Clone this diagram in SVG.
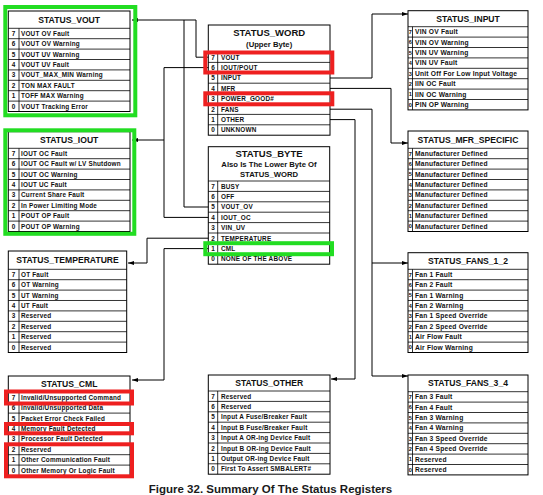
<svg xmlns="http://www.w3.org/2000/svg" width="543" height="495" viewBox="0 0 543 495">
<style>
.box{fill:#fff;stroke:#000;stroke-width:1}
.grid{fill:none;stroke:#000;stroke-width:0.8}
.t{font-family:"Liberation Sans",Arial,sans-serif;font-weight:bold;fill:#111}
.ti{font-size:8.6px;text-anchor:middle}
.tb{font-size:9.5px;text-anchor:middle}
.sub{font-size:7.7px;text-anchor:middle}
.r{font-size:6.4px;letter-spacing:.2px}
.rr{font-size:6.7px;letter-spacing:.2px}
.d{font-size:6.4px;text-anchor:middle}
.dr{font-size:5.6px;text-anchor:middle}
.conn path{fill:none;stroke:#000;stroke-width:1}
.hg{fill:none;stroke:#22dd22;stroke-width:4}
.hr{fill:none;stroke:#ee2020;stroke-width:4}
.cap{font-family:"Liberation Sans",Arial,sans-serif;font-weight:bold;font-size:11.5px;fill:#1a1a1a;text-anchor:middle}
</style>
<defs>
<marker id="ah" markerUnits="userSpaceOnUse" markerWidth="6" markerHeight="4" refX="6" refY="2" orient="auto">
<path d="M0 0L6 2L0 4z" fill="#000"/>
</marker>
</defs>

<g id="status_vout" transform="translate(8.3,11)">
<rect class="box" width="121.7" height="100.5"/>
<text class="t ti" x="60.85" y="11.75">STATUS_VOUT</text>
<g transform="translate(0,17.3)">
<path class="grid" d="M0 0H121.7M0 10.4H121.7M0 20.8H121.7M0 31.2H121.7M0 41.6H121.7M0 52H121.7M0 62.4H121.7M0 72.8H121.7M10.7 0V83.2"/>
<text class="t d" x="5.35" y="7.5">7</text><text class="t r" x="12.7" y="7.5">VOUT OV Fault</text>
<text class="t d" x="5.35" y="17.9">6</text><text class="t r" x="12.7" y="17.9">VOUT OV Warning</text>
<text class="t d" x="5.35" y="28.3">5</text><text class="t r" x="12.7" y="28.3">VOUT UV Warning</text>
<text class="t d" x="5.35" y="38.7">4</text><text class="t r" x="12.7" y="38.7">VOUT UV Fault</text>
<text class="t d" x="5.35" y="49.1">3</text><text class="t r" x="12.7" y="49.1">VOUT_MAX_MIN Warning</text>
<text class="t d" x="5.35" y="59.5">2</text><text class="t r" x="12.7" y="59.5">TON MAX FAULT</text>
<text class="t d" x="5.35" y="69.9">1</text><text class="t r" x="12.7" y="69.9">TOFF MAX Warning</text>
<text class="t d" x="5.35" y="80.3">0</text><text class="t r" x="12.7" y="80.3">VOUT Tracking Error</text>
</g>
</g>

<g id="status_iout" transform="translate(8.3,131.7)">
<rect class="box" width="121.7" height="99.8"/>
<text class="t ti" x="60.85" y="11.4">STATUS_IOUT</text>
<g transform="translate(0,16.6)">
<path class="grid" d="M0 0H121.7M0 10.4H121.7M0 20.8H121.7M0 31.2H121.7M0 41.6H121.7M0 52H121.7M0 62.4H121.7M0 72.8H121.7M10.7 0V83.2"/>
<text class="t d" x="5.35" y="7.5">7</text><text class="t r" x="12.7" y="7.5">IOUT OC Fault</text>
<text class="t d" x="5.35" y="17.9">6</text><text class="t r" x="12.7" y="17.9">IOUT OC Fault w/ LV Shutdown</text>
<text class="t d" x="5.35" y="28.3">5</text><text class="t r" x="12.7" y="28.3">IOUT OC Warning</text>
<text class="t d" x="5.35" y="38.7">4</text><text class="t r" x="12.7" y="38.7">IOUT UC Fault</text>
<text class="t d" x="5.35" y="49.1">3</text><text class="t r" x="12.7" y="49.1">Current Share Fault</text>
<text class="t d" x="5.35" y="59.5">2</text><text class="t r" x="12.7" y="59.5">In Power Limiting Mode</text>
<text class="t d" x="5.35" y="69.9">1</text><text class="t r" x="12.7" y="69.9">POUT OP Fault</text>
<text class="t d" x="5.35" y="80.3">0</text><text class="t r" x="12.7" y="80.3">POUT OP Warning</text>
</g>
</g>

<g id="status_temperature" transform="translate(8.3,251)">
<rect class="box" width="118.4" height="101.5"/>
<text class="t ti" x="59.2" y="12.25">STATUS_TEMPERATURE</text>
<g transform="translate(0,18.3)">
<path class="grid" d="M0 0H118.4M0 10.4H118.4M0 20.8H118.4M0 31.2H118.4M0 41.6H118.4M0 52H118.4M0 62.4H118.4M0 72.8H118.4M10.7 0V83.2"/>
<text class="t d" x="5.35" y="7.5">7</text><text class="t r" x="12.7" y="7.5">OT Fault</text>
<text class="t d" x="5.35" y="17.9">6</text><text class="t r" x="12.7" y="17.9">OT Warning</text>
<text class="t d" x="5.35" y="28.3">5</text><text class="t r" x="12.7" y="28.3">UT Warning</text>
<text class="t d" x="5.35" y="38.7">4</text><text class="t r" x="12.7" y="38.7">UT Fault</text>
<text class="t d" x="5.35" y="49.1">3</text><text class="t r" x="12.7" y="49.1">Reserved</text>
<text class="t d" x="5.35" y="59.5">2</text><text class="t r" x="12.7" y="59.5">Reserved</text>
<text class="t d" x="5.35" y="69.9">1</text><text class="t r" x="12.7" y="69.9">Reserved</text>
<text class="t d" x="5.35" y="80.3">0</text><text class="t r" x="12.7" y="80.3">Reserved</text>
</g>
</g>

<g id="status_cml" transform="translate(8.3,376)">
<rect class="box" width="121.7" height="99.5"/>
<text class="t ti" x="60.85" y="11.25">STATUS_CML</text>
<g transform="translate(0,16.3)">
<path class="grid" d="M0 0H121.7M0 10.4H121.7M0 20.8H121.7M0 31.2H121.7M0 41.6H121.7M0 52H121.7M0 62.4H121.7M0 72.8H121.7M10.7 0V83.2"/>
<text class="t d" x="5.35" y="7.5">7</text><text class="t r" x="12.7" y="7.5">Invalid/Unsupported Command</text>
<text class="t d" x="5.35" y="17.9">6</text><text class="t r" x="12.7" y="17.9">Invalid/Unsupported Data</text>
<text class="t d" x="5.35" y="28.3">5</text><text class="t r" x="12.7" y="28.3">Packet Error Check Failed</text>
<text class="t d" x="5.35" y="38.7">4</text><text class="t r" x="12.7" y="38.7">Memory Fault Detected</text>
<text class="t d" x="5.35" y="49.1">3</text><text class="t r" x="12.7" y="49.1">Processor Fault Detected</text>
<text class="t d" x="5.35" y="59.5">2</text><text class="t r" x="12.7" y="59.5">Reserved</text>
<text class="t d" x="5.35" y="69.9">1</text><text class="t r" x="12.7" y="69.9">Other Communication Fault</text>
<text class="t d" x="5.35" y="80.3">0</text><text class="t r" x="12.7" y="80.3">Other Memory Or Logic Fault</text>
</g>
</g>

<g id="status_word" transform="translate(208.3,25)">
<rect class="box" width="121.7" height="110.2"/>
<text class="t tb" x="60.85" y="11.4">STATUS_WORD</text>
<text class="t sub" x="60.85" y="22">(Upper Byte)</text>
<g transform="translate(0,27)">
<path class="grid" d="M0 0H121.7M0 10.4H121.7M0 20.8H121.7M0 31.2H121.7M0 41.6H121.7M0 52H121.7M0 62.4H121.7M0 72.8H121.7M9.4 0V83.2"/>
<text class="t d" x="4.7" y="7.5">7</text><text class="t r" x="12.7" y="7.5">VOUT</text>
<text class="t d" x="4.7" y="17.9">6</text><text class="t r" x="12.7" y="17.9">IOUT/POUT</text>
<text class="t d" x="4.7" y="28.3">5</text><text class="t r" x="12.7" y="28.3">INPUT</text>
<text class="t d" x="4.7" y="38.7">4</text><text class="t r" x="12.7" y="38.7">MFR</text>
<text class="t d" x="4.7" y="49.1">3</text><text class="t r" x="12.7" y="49.1">POWER_GOOD#</text>
<text class="t d" x="4.7" y="59.5">2</text><text class="t r" x="12.7" y="59.5">FANS</text>
<text class="t d" x="4.7" y="69.9">1</text><text class="t r" x="12.7" y="69.9">OTHER</text>
<text class="t d" x="4.7" y="80.3">0</text><text class="t r" x="12.7" y="80.3">UNKNOWN</text>
</g>
</g>

<g id="status_byte" transform="translate(208.3,146.7)">
<rect class="box" width="121.4" height="117.5"/>
<text class="t tb" x="60.7" y="10">STATUS_BYTE</text>
<text class="t sub" x="60.7" y="20.4">Also Is The Lower Byte Of</text>
<text class="t sub" x="60.7" y="30">STATUS_WORD</text>
<g transform="translate(0,34.3)">
<path class="grid" d="M0 0H121.4M0 10.4H121.4M0 20.8H121.4M0 31.2H121.4M0 41.6H121.4M0 52H121.4M0 62.4H121.4M0 72.8H121.4M9.4 0V83.2"/>
<text class="t d" x="4.7" y="7.5">7</text><text class="t r" x="12.7" y="7.5">BUSY</text>
<text class="t d" x="4.7" y="17.9">6</text><text class="t r" x="12.7" y="17.9">OFF</text>
<text class="t d" x="4.7" y="28.3">5</text><text class="t r" x="12.7" y="28.3">VOUT_OV</text>
<text class="t d" x="4.7" y="38.7">4</text><text class="t r" x="12.7" y="38.7">IOUT_OC</text>
<text class="t d" x="4.7" y="49.1">3</text><text class="t r" x="12.7" y="49.1">VIN_UV</text>
<text class="t d" x="4.7" y="59.5">2</text><text class="t r" x="12.7" y="59.5">TEMPERATURE</text>
<text class="t d" x="4.7" y="69.9">1</text><text class="t r" x="12.7" y="69.9">CML</text>
<text class="t d" x="4.7" y="80.3">0</text><text class="t r" x="12.7" y="80.3">NONE OF THE ABOVE</text>
</g>
</g>

<g id="status_other" transform="translate(208.3,375)">
<rect class="box" width="121.7" height="99.2"/>
<text class="t ti" x="60.85" y="11.1">STATUS_OTHER</text>
<g transform="translate(0,16)">
<path class="grid" d="M0 0H121.7M0 10.4H121.7M0 20.8H121.7M0 31.2H121.7M0 41.6H121.7M0 52H121.7M0 62.4H121.7M0 72.8H121.7M9.4 0V83.2"/>
<text class="t d" x="4.7" y="7.5">7</text><text class="t r" x="12.7" y="7.5">Reserved</text>
<text class="t d" x="4.7" y="17.9">6</text><text class="t r" x="12.7" y="17.9">Reserved</text>
<text class="t d" x="4.7" y="28.3">5</text><text class="t r" x="12.7" y="28.3">Input A Fuse/Breaker Fault</text>
<text class="t d" x="4.7" y="38.7">4</text><text class="t r" x="12.7" y="38.7">Input B Fuse/Breaker Fault</text>
<text class="t d" x="4.7" y="49.1">3</text><text class="t r" x="12.7" y="49.1">Input A OR-ing Device Fault</text>
<text class="t d" x="4.7" y="59.5">2</text><text class="t r" x="12.7" y="59.5">Input B OR-ing Device Fault</text>
<text class="t d" x="4.7" y="69.9">1</text><text class="t r" x="12.7" y="69.9">Output OR-ing Device Fault</text>
<text class="t d" x="4.7" y="80.3">0</text><text class="t r" x="12.7" y="80.3">First To Assert SMBALERT#</text>
</g>
</g>

<g id="status_input" transform="translate(408,10.7)">
<rect class="box" width="120" height="99.2"/>
<text class="t ti" x="60" y="11.1">STATUS_INPUT</text>
<g transform="translate(0,16)">
<path class="grid" d="M0 0H120M0 10.4H120M0 20.8H120M0 31.2H120M0 41.6H120M0 52H120M0 62.4H120M0 72.8H120M4.5 0V83.2"/>
<text class="t dr" x="2.3" y="7.4">7</text><text class="t rr" x="7" y="7.5">VIN OV Fault</text>
<text class="t dr" x="2.3" y="17.8">6</text><text class="t rr" x="7" y="17.9">VIN OV Warning</text>
<text class="t dr" x="2.3" y="28.2">5</text><text class="t rr" x="7" y="28.3">VIN UV Warning</text>
<text class="t dr" x="2.3" y="38.6">4</text><text class="t rr" x="7" y="38.7">VIN UV Fault</text>
<text class="t dr" x="2.3" y="49">3</text><text class="t rr" x="7" y="49.1">Unit Off For Low Input Voltage</text>
<text class="t dr" x="2.3" y="59.4">2</text><text class="t rr" x="7" y="59.5">IIN OC Fault</text>
<text class="t dr" x="2.3" y="69.8">1</text><text class="t rr" x="7" y="69.9">IIN OC Warning</text>
<text class="t dr" x="2.3" y="80.2">0</text><text class="t rr" x="7" y="80.3">PIN OP Warning</text>
</g>
</g>

<g id="status_mfr_specific" transform="translate(408,131)">
<rect class="box" width="120" height="100.5"/>
<text class="t ti" x="60" y="11.75">STATUS_MFR_SPECIFIC</text>
<g transform="translate(0,17.3)">
<path class="grid" d="M0 0H120M0 10.4H120M0 20.8H120M0 31.2H120M0 41.6H120M0 52H120M0 62.4H120M0 72.8H120M4.5 0V83.2"/>
<text class="t dr" x="2.3" y="7.4">7</text><text class="t rr" x="7" y="7.5">Manufacturer Defined</text>
<text class="t dr" x="2.3" y="17.8">6</text><text class="t rr" x="7" y="17.9">Manufacturer Defined</text>
<text class="t dr" x="2.3" y="28.2">5</text><text class="t rr" x="7" y="28.3">Manufacturer Defined</text>
<text class="t dr" x="2.3" y="38.6">4</text><text class="t rr" x="7" y="38.7">Manufacturer Defined</text>
<text class="t dr" x="2.3" y="49">3</text><text class="t rr" x="7" y="49.1">Manufacturer Defined</text>
<text class="t dr" x="2.3" y="59.4">2</text><text class="t rr" x="7" y="59.5">Manufacturer Defined</text>
<text class="t dr" x="2.3" y="69.8">1</text><text class="t rr" x="7" y="69.9">Manufacturer Defined</text>
<text class="t dr" x="2.3" y="80.2">0</text><text class="t rr" x="7" y="80.3">Manufacturer Defined</text>
</g>
</g>

<g id="status_fans_1_2" transform="translate(408,252.7)">
<rect class="box" width="120" height="99.8"/>
<text class="t ti" x="60" y="11.4">STATUS_FANS_1_2</text>
<g transform="translate(0,16.6)">
<path class="grid" d="M0 0H120M0 10.4H120M0 20.8H120M0 31.2H120M0 41.6H120M0 52H120M0 62.4H120M0 72.8H120M4.5 0V83.2"/>
<text class="t dr" x="2.3" y="7.4">7</text><text class="t rr" x="7" y="7.5">Fan 1 Fault</text>
<text class="t dr" x="2.3" y="17.8">6</text><text class="t rr" x="7" y="17.9">Fan 2 Fault</text>
<text class="t dr" x="2.3" y="28.2">5</text><text class="t rr" x="7" y="28.3">Fan 1 Warning</text>
<text class="t dr" x="2.3" y="38.6">4</text><text class="t rr" x="7" y="38.7">Fan 2 Warning</text>
<text class="t dr" x="2.3" y="49">3</text><text class="t rr" x="7" y="49.1">Fan 1 Speed Override</text>
<text class="t dr" x="2.3" y="59.4">2</text><text class="t rr" x="7" y="59.5">Fan 2 Speed Override</text>
<text class="t dr" x="2.3" y="69.8">1</text><text class="t rr" x="7" y="69.9">Air Flow Fault</text>
<text class="t dr" x="2.3" y="80.2">0</text><text class="t rr" x="7" y="80.3">Air Flow Warning</text>
</g>
</g>

<g id="status_fans_3_4" transform="translate(408,375)">
<rect class="box" width="120" height="99.9"/>
<text class="t ti" x="60" y="11.45">STATUS_FANS_3_4</text>
<g transform="translate(0,16.7)">
<path class="grid" d="M0 0H120M0 10.4H120M0 20.8H120M0 31.2H120M0 41.6H120M0 52H120M0 62.4H120M0 72.8H120M4.5 0V83.2"/>
<text class="t dr" x="2.3" y="7.4">7</text><text class="t rr" x="7" y="7.5">Fan 3 Fault</text>
<text class="t dr" x="2.3" y="17.8">6</text><text class="t rr" x="7" y="17.9">Fan 4 Fault</text>
<text class="t dr" x="2.3" y="28.2">5</text><text class="t rr" x="7" y="28.3">Fan 3 Warning</text>
<text class="t dr" x="2.3" y="38.6">4</text><text class="t rr" x="7" y="38.7">Fan 4 Warning</text>
<text class="t dr" x="2.3" y="49">3</text><text class="t rr" x="7" y="49.1">Fan 3 Speed Override</text>
<text class="t dr" x="2.3" y="59.4">2</text><text class="t rr" x="7" y="59.5">Fan 4 Speed Override</text>
<text class="t dr" x="2.3" y="69.8">1</text><text class="t rr" x="7" y="69.9">Reserved</text>
<text class="t dr" x="2.3" y="80.2">0</text><text class="t rr" x="7" y="80.3">Reserved</text>
</g>
</g>

<g id="connectors" class="conn">
<path d="M208.3 57.2H196V20H132" marker-end="url(#ah)"/>
<path d="M208.3 207H184V20"/>
<path d="M208.3 67.6H164V217.4H208.3"/>
<path d="M164 140H132" marker-end="url(#ah)"/>
<path d="M208.3 238.2H147V263H128" marker-end="url(#ah)"/>
<path d="M208.3 248.6H164V380H132" marker-end="url(#ah)"/>
<path d="M330 78H372V14H408" marker-end="url(#ah)"/>
<path d="M330 88.4H391V143H408" marker-end="url(#ah)"/>
<path d="M330 109.2H372V376H408" marker-end="url(#ah)"/>
<path d="M372 263H408" marker-end="url(#ah)"/>
<path d="M330 119.6H355V379H331" marker-end="url(#ah)"/>
</g>

<g id="highlights">
<rect class="hg" x="5.3" y="7" width="130" height="108.3"/>
<rect class="hg" x="5.3" y="130.3" width="129" height="103.5"/>
<rect class="hr" x="205.3" y="52.5" width="127" height="20"/>
<rect class="hr" x="205.3" y="93.3" width="127" height="11"/>
<rect class="hg" x="205.3" y="243.2" width="126.7" height="11"/>
<rect class="hr" x="6" y="391.5" width="126" height="12"/>
<rect class="hr" x="6" y="424" width="126" height="9.3"/>
<rect class="hr" x="6" y="444.3" width="126" height="32"/>
</g>

<text class="cap" x="270.5" y="493">Figure 32. Summary Of The Status Registers</text>
</svg>
